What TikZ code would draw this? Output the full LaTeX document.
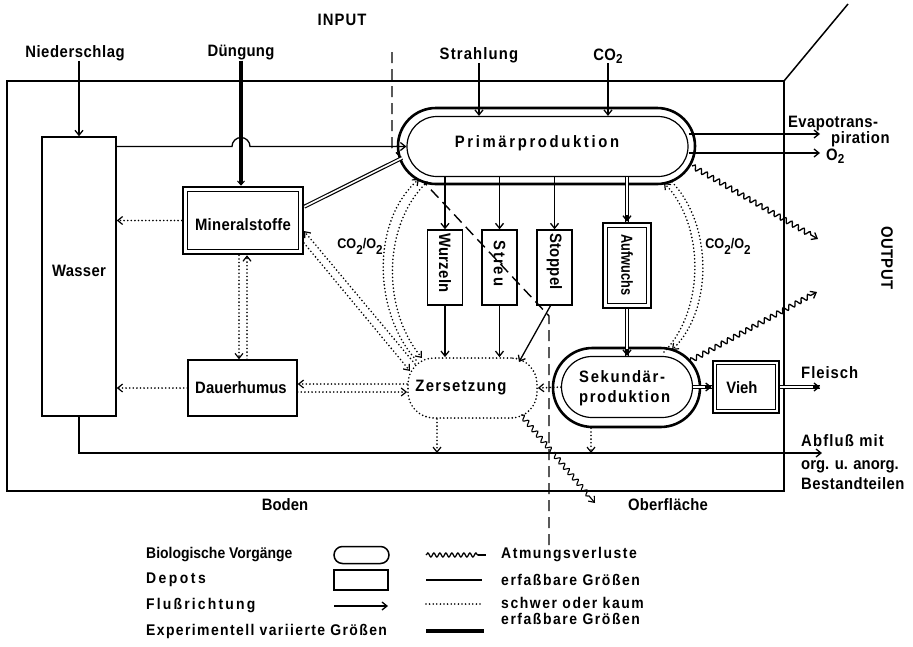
\documentclass[tikz,border=0pt]{standalone}
\usepackage{fontspec}
\setmainfont{Liberation Sans}
\usetikzlibrary{arrows.meta,decorations.pathmorphing,shapes.misc,calc}
\newcommand\lowsub[2][2.5pt]{\raisebox{-#1}{\fontsize{13}{13}\selectfont #2}}
\tikzset{
 txt/.style={font={\fontsize{16.5}{18}\selectfont\bfseries\addfontfeatures{FakeStretch=0.9,LetterSpace=#1}}, inner sep=0pt},
 txt/.default=3,
 ltxt/.style={font={\fontsize{15.5}{17}\selectfont\bfseries\addfontfeatures{FakeStretch=0.9,LetterSpace=#1}}, inner sep=0pt, anchor=west},
 ltxt/.default=6,
 box/.style={draw, line width=1.4pt, inner sep=0pt},
 obox/.style={draw, line width=2.6pt, fill=white, inner sep=0pt},
 ibox/.style={draw, line width=1.2pt},
 stad/.style={rounded rectangle, draw, inner sep=0pt},
 conn/.style={line width=1.3pt},
 arr/.style={conn, -{Straight Barb[length=5pt,width=8pt]}},
 dots/.style={line width=1.8pt, line cap=round, dash pattern=on 0pt off 3.6pt},
 darr/.style={dots, -{Straight Barb[length=5pt,width=8pt,line width=1.2pt]}},
 dline/.style={line width=1.2pt, double distance=1.6pt},
 wavy/.style={conn, decorate, decoration={snake, amplitude=2.4pt, segment length=7pt, post length=7pt}, -{Straight Barb[length=5pt,width=8pt]}},
 dashln/.style={line width=1.4pt, dash pattern=on 11pt off 6pt},
}
\begin{document}
\begin{tikzpicture}[x=1pt,y=-1pt]
\fill[white] (0,0) rectangle (913,646);
\useasboundingbox (0,0) rectangle (913,646);

% frame
\draw[line width=1.5pt] (7,81) rectangle (784,491);
\draw[line width=1.5pt] (784,81) -- (848,4);

% small depots (under dashed line)
\node[box, minimum width=35pt, minimum height=75pt] (wz) at (445,267.5) {};
\node[box, minimum width=35pt, minimum height=75pt] (st) at (499.5,267.5) {};
\node[box, minimum width=35pt, minimum height=75pt] (sp) at (554.5,267.5) {};
\node[txt=2, rotate=-90] (wzt) at (445,263) {Wurzeln};
\node[txt=11, rotate=-90] (stt) at (499.5,263.5) {Streu};
\node[txt=2.5, rotate=-90] (spt) at (554.5,261.5) {Stoppel};

% dashed boundary
\draw[dashln] (392,52) -- (392,148) -- (549,316) -- (549,548);

% labels top
\node[txt=6.5] (input) at (342,20) {INPUT};
\node[txt=3.4] (nied) at (75,53) {Niederschlag};
\node[txt=1.5] (dueng) at (241,53) {Düngung};
\node[txt=7] (strahl) at (479,55) {Strahlung};
\node[txt=2] (co2) at (608,56) {CO\lowsub{2}};

% Wasser
\node[box, fill=white, minimum width=74pt, minimum height=279pt] (wasser) at (79,276.5) {};
\node[txt=2] (wassert) at (79,271) {Wasser};

% Mineralstoffe
\node[obox, minimum width=120pt, minimum height=67pt] (mf) at (243,220.5) {};
\draw[ibox] ([shift={(6pt,-6pt)}]mf.north west) rectangle ([shift={(-6pt,6pt)}]mf.south east);
\node[txt=1.7] (mft) at (243,225) {Mineralstoffe};

% Dauerhumus
\node[box, fill=white, minimum width=109pt, minimum height=56pt] (dh) at (242.5,388) {};
\node[txt=0.5] (dht) at (241,388) {Dauerhumus};

% Primaerproduktion
\node[stad, line width=2.6pt, fill=white, minimum width=297pt, minimum height=76pt] (pp) at (546.5,146) {};
\node[stad, line width=1.2pt, minimum width=281pt, minimum height=60pt] (ppi) at (547.5,146.5) {};
\node[txt=16] (ppt) at (537,143) {Primärproduktion};

% Sekundaerproduktion
\node[stad, line width=2.6pt, fill=white, minimum width=147pt, minimum height=79pt] (spo) at (626.5,387.5) {};
\node[stad, line width=1.2pt, minimum width=131pt, minimum height=61pt] (spi) at (627,387) {};
\node[txt=10, anchor=west] (spt1) at (579,377) {Sekundär-};
\node[txt=9, anchor=west] (spt2) at (579,398) {produktion};

% Aufwuchs
\node[obox, minimum width=48pt, minimum height=85pt] (aw) at (627,265.5) {};
\draw[ibox] ([shift={(5.5pt,-5.5pt)}]aw.north west) rectangle ([shift={(-5.5pt,5.5pt)}]aw.south east);
\node[font={\fontsize{16}{18}\selectfont\bfseries\addfontfeatures{FakeStretch=0.8}}, inner sep=0pt, rotate=-90] (awt) at (627,265) {Aufwuchs};

% Vieh
\node[obox, minimum width=66pt, minimum height=52pt] (vieh) at (746,387) {};
\draw[ibox] ([shift={(5pt,-5pt)}]vieh.north west) rectangle ([shift={(-5pt,5pt)}]vieh.south east);
\node[txt=0] (vt) at (742,388) {Vieh};

% Zersetzung
\node[draw, dots, rounded corners=26pt, minimum width=129pt, minimum height=60pt] (zs) at (472.5,388) {};
\node[txt=8] (zst) at (461,388) {Zersetzung};

% right texts
\node[txt=2.4, anchor=west] (ev1) at (788,124) {Evapotrans-};
\node[txt=3.4, anchor=west] (ev2) at (831,139) {piration};
\node[txt=2, anchor=west] (o2) at (826,156) {O\lowsub{2}};
\node[txt=6, anchor=west] (fl) at (801,373) {Fleisch};
\node[txt=7, anchor=west] (ab1) at (801,441) {Abfluß mit};
\node[txt=0, anchor=west] (ab2) at (801,467) {org. u. anorg.};
\node[txt=3, anchor=west] (ab3) at (801,484) {Bestandteilen};
\node[txt=2, rotate=-90] (output) at (887,258) {OUTPUT};
\node[txt=0] (boden) at (285,505) {Boden};
\node[txt=1.5] (ober) at (668,505) {Oberfläche};
\node[font={\fontsize{14}{16}\selectfont\bfseries\addfontfeatures{FakeStretch=0.9}}, inner sep=0pt] (col) at (360,246) {CO\lowsub[6pt]{2}/O\lowsub[6pt]{2}};
\node[font={\fontsize{14}{16}\selectfont\bfseries\addfontfeatures{FakeStretch=0.9}}, inner sep=0pt] (cor) at (728,246) {CO\lowsub[6pt]{2}/O\lowsub[6pt]{2}};

% ---- connectors ----
\draw[arr] (wasser.north |- nied.south) -- (wasser.north);
\draw[line width=3.8pt, -{Straight Barb[length=4pt,width=7pt,line width=1pt]}] (dueng.south) -- (dueng.south |- mf.north);
\coordinate (bumpL) at ($(dueng.south |- ppi.west)+(-9,0)$);
\draw[arr] (wasser.east |- ppi.west) -- (bumpL) arc[start angle=180,end angle=360,radius=9] -- (ppi.west);
\coordinate (mpend) at (402,158);
\draw[dline] ($(mf.north east)+(0,21)$) -- (mpend);

\draw[arr] (strahl.south) -- (strahl.south |- ppi.north);
\draw[arr] (co2.south) -- (co2.south |- ppi.north);

\coordinate (evend) at (820,134);
\coordinate (o2end) at (820,153);
\draw[arr] (ppi.east |- evend) -- (evend);
\draw[arr] (ppi.east |- o2end) -- (o2end);

\coordinate (w1s) at (692,166); \coordinate (w1e) at (818,239);
\draw[wavy] (w1s) -- (w1e);
\coordinate (w2s) at (690,361); \coordinate (w2e) at (817,292);
\draw[wavy] (w2s) -- (w2e);
\coordinate (w3s) at (521,415); \coordinate (w3e) at (595,503);
\draw[wavy, line width=1.1pt] (w3s) -- (w3e);

\draw[arr] (wz.north |- ppi.south) -- (wz.north);
\draw[arr] (st.north |- ppi.south) -- (st.north);
\draw[arr] (sp.north |- ppi.south) -- (sp.north);
\draw[dline] (aw.north |- ppi.south) -- (aw.north);
\draw[arr] ($(aw.north)+(0,-7)$) -- (aw.north);
\draw[dline] (aw.south) -- (aw.south |- spi.north);
\draw[arr] ($(aw.south |- spi.north)+(0,-7)$) -- (aw.south |- spi.north);
\draw[dline] (spi.east) -- (vieh.west);
\draw[arr] ($(vieh.west)+(-7,0)$) -- (vieh.west);
\coordinate (flend) at (820,387);
\draw[dline] (vieh.east) -- (flend);
\draw[arr] ($(flend)+(-7,0)$) -- (flend);

\draw[arr] (wz.south) -- (wz.south |- zs.north);
\draw[arr] (st.south) -- (st.south |- zs.north);
\coordinate (spz) at (519,362);
\draw[arr] ($(sp.south)+(-4,0)$) -- (spz);

\coordinate (abend) at (822,453);
\draw[arr] (wasser.south) |- (abend);
\coordinate (zsb) at ($(zs.south)+(-35.5,0)$);
\draw[darr] (zsb) -- (zsb |- abend);
\coordinate (spb) at ($(spo.south)+(-35.5,0)$);
\draw[darr] (spb) -- (spb |- abend);

\draw[darr] (spi.west) -- (zs.east);
\draw[darr] (mf.west) -- (wasser.east |- mf.west);
\draw[darr] (dh.west) -- (wasser.east |- dh.west);
\coordinate (mfd1) at ($(mf.south)+(-4,0)$);
\coordinate (mfd2) at ($(mf.south)+(4,0)$);
\draw[darr] (mfd1) -- (mfd1 |- dh.north);
\draw[darr] (mfd2 |- dh.north) -- (mfd2);
\coordinate (zh1) at ($(zs.west)+(0,-4)$);
\coordinate (zh2) at ($(zs.west)+(0,4)$);
\draw[darr] (zh1) -- (dh.east |- zh1);
\draw[darr] (dh.east |- zh2) -- (zh2);

\coordinate (zm1) at (415,364); \coordinate (mz1) at (304,231);
\coordinate (zm2) at (410,371); \coordinate (mz2) at (304,243);
\draw[darr] (zm1) -- (mz1);
\draw[darr] (mz2) -- (zm2);

\coordinate (cl1a) at (419,179); \coordinate (cl1b) at (416,360);
\draw[darr] (cl1b) .. controls (372,310) and (372,220) .. (cl1a);
\coordinate (cl2a) at (427,182); \coordinate (cl2b) at (422,358);
\draw[darr] (cl2a) .. controls (382,225) and (382,310) .. (cl2b);
\coordinate (cr1a) at (664,183); \coordinate (cr1b) at (664,352);
\draw[darr] (cr1b) .. controls (705,310) and (705,225) .. (cr1a);
\coordinate (cr2a) at (672,182); \coordinate (cr2b) at (672,350);
\draw[darr] (cr2a) .. controls (713,225) and (713,310) .. (cr2b);

% ---- legend ----
\node[ltxt=0] (lg1) at (146,555) {Biologische Vorgänge};
\node[stad, line width=1.5pt, minimum width=55pt, minimum height=17pt] (lgs) at (361.5,555) {};
\node[ltxt=16] (lg2) at (146,580) {Depots};
\node[box, minimum width=54pt, minimum height=20pt] (lgr) at (361,580) {};
\node[ltxt=14] (lg3) at (146,606) {Flußrichtung};
\coordinate (la1) at (334,606); \coordinate (la2) at (388,606);
\draw[arr] (la1) -- (la2);
\node[ltxt=9] (lg4) at (146,631) {Experimentell variierte Größen};
\coordinate (lt1) at (426,631); \coordinate (lt2) at (484,631);
\draw[line width=3.8pt] (lt1) -- (lt2);
\coordinate (lw1) at (426,555); \coordinate (lw2) at (478,555); \coordinate (lw3) at (486,555);
\draw[conn, decorate, decoration={snake, amplitude=2pt, segment length=6pt}] (lw1) -- (lw2);
\draw[conn] (lw2) -- (lw3);
\node[ltxt=10] (lg5) at (501,555) {Atmungsverluste};
\coordinate (ls1) at (426,580); \coordinate (ls2) at (482,580);
\draw[conn] (ls1) -- (ls2);
\node[ltxt=10] (lg6) at (501,580) {erfaßbare Größen};
\coordinate (ld1) at (426,604); \coordinate (ld2) at (482,604);
\draw[dots] (ld1) -- (ld2);
\node[ltxt=10] (lg7) at (501,603) {schwer oder kaum};
\node[ltxt=10] (lg8) at (501,619) {erfaßbare Größen};
\end{tikzpicture}
\end{document}
